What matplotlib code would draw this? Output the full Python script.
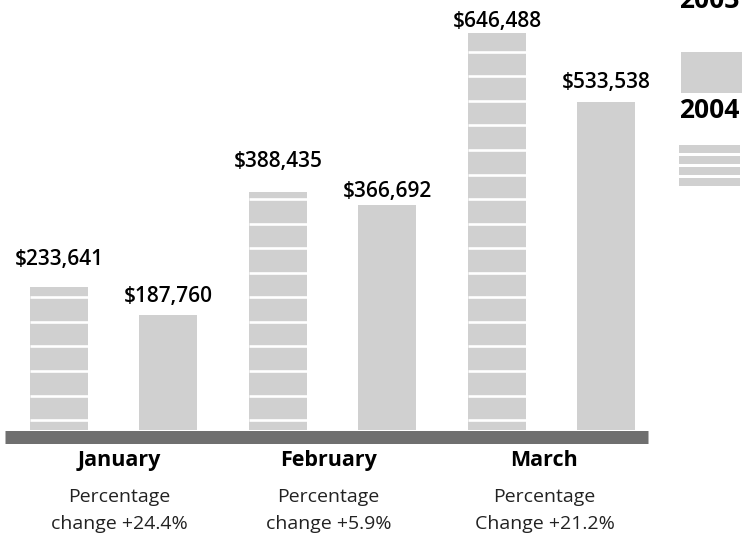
import matplotlib
matplotlib.use("Agg")
from matplotlib import pyplot as plt
from matplotlib.patches import Rectangle
import numpy as np


W, H = 744, 536
DPI = 100

months = ["January", "February", "March"]
sales_2004 = [233641, 388435, 646488]
sales_2003 = [187760, 366692, 533538]
change_notes = ["Percentage\nchange +24.4%", "Percentage\nchange +5.9%", "Percentage\nChange +21.2%"]
legend_years = ["2003", "2004"]

BAR_GRAY = "#d0d0d0"
BASE_GRAY = "#6f6f6f"
FONT = "Open Sans"

# gap between bar top and its value label, in pixels
GAP_2004 = [22, 25, 6]
GAP_2003 = [13, 8, 14]
# the month captions sit a little off the group centres
CAPTION_SHIFT = [6, -4, -7]

STRIPE_STEP = 40000
STRIPE_START = 16000


def px(v):
    return v * 72.0 / DPI


def fig_rect(x0, y_top, w, h, **kw):
    return Rectangle((x0 / W, 1 - (y_top + h) / H), w / W, h / H,
                     transform=fig.transFigure, **kw)


fig = plt.figure(figsize=(W / DPI, H / DPI), dpi=DPI)
ax = fig.add_axes([0, 0, 1, 1])
ax.set_xlim(-0.518, 2.879)
ax.set_ylim(-172640, 700340)
ax.axis("off")

x = np.arange(len(months))
off = 0.249
width = 0.265

ax.bar(x - off, sales_2004, width, color=BAR_GRAY, zorder=1)
ax.bar(x + off, sales_2003, width, color=BAR_GRAY, zorder=1)

# white stripes on the 2004 bars
for xi, v in zip(x - off, sales_2004):
    levels = np.arange(STRIPE_START, v - 4000, STRIPE_STEP)
    ax.hlines(levels, xi - width / 2, xi + width / 2, color="white", lw=1.9, zorder=2)

# base
ax.axhline(-10600, xmin=5 / W, xmax=648 / W, color=BASE_GRAY, lw=px(13),
           solid_capstyle="butt", zorder=3)

for xs, vals, gaps in [(x - off, sales_2004, GAP_2004), (x + off, sales_2003, GAP_2003)]:
    for xi, v, g in zip(xs, vals, gaps):
        ax.annotate("${:,}".format(v), (xi, v), xytext=(0, px(g)), textcoords="offset points",
                    ha="center", va="baseline", fontsize=15, fontweight="semibold",
                    family=FONT, color="black")

tr = ax.get_xaxis_transform()
for xi, m, note, sh in zip(x, months, change_notes, CAPTION_SHIFT):
    xc = xi + sh / 219.0
    ax.text(xc, (H - 466) / H, m, transform=tr, ha="center", va="baseline",
            fontsize=15.5, fontweight="bold", family=FONT)
    l1, l2 = note.split("\n")
    ax.text(xc, (H - 502) / H, l1, transform=tr, ha="center", va="baseline",
            fontsize=14, family=FONT, color="#222222")
    ax.text(xc, (H - 529) / H, l2, transform=tr, ha="center", va="baseline",
            fontsize=14, family=FONT, color="#222222")

# legend
fig.text(709 / W, (H - 8) / H, legend_years[0], ha="center", va="baseline",
         fontsize=19, fontweight="bold", family=FONT)
fig.add_artist(fig_rect(681, 52, 61, 41, color=BAR_GRAY, lw=0))
fig.text(709 / W, (H - 118) / H, legend_years[1], ha="center", va="baseline",
         fontsize=19, fontweight="bold", family=FONT)
for k in range(4):
    fig.add_artist(fig_rect(679, 145 + k * 11, 61, 8, color=BAR_GRAY, lw=0))

fig.savefig("out.png", dpi=DPI)
